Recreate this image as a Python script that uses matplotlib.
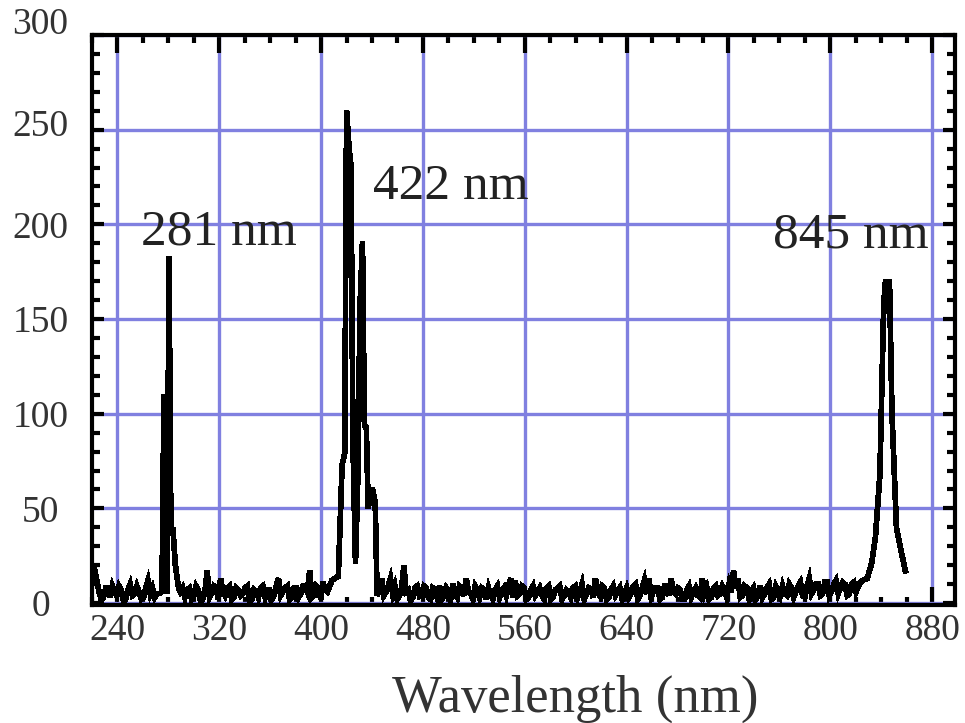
import numpy as np
import matplotlib
matplotlib.use("Agg")
import matplotlib.pyplot as plt
import matplotlib.transforms as mtransforms
from matplotlib.ticker import MultipleLocator

# ---------------- data ----------------
step = 1.75  # nm sampling of the baseline segments

base1_start = 222.0
base1_vals = [18, 12, 6, 2, 3, 8, 8, 3, 9, 6, 4, 9, 7, 1, 2,
              7, 10, 4, 5, 9, 6, 2, 3, 8, 12, 5, 8, 3, 5]

peak1_wl = [273, 275, 276.5, 278, 279, 280.5, 282, 283.5, 285.5, 288]
peak1_vals = [5, 6, 109, 109, 5, 183, 37, 40, 20, 8]

base2_start = 289.5
base2_vals = [6, 8, 3, 7, 8, 2, 4, 9, 7, 1, 2, 6, 17, 3, 5, 9, 8, 2, 13, 6,
              4, 8, 9, 2, 3, 8, 7, 4, 5, 8, 9, 1, 2, 7, 6, 3, 8, 9, 3, 7,
              7, 2, 4, 9, 13, 4, 6, 8, 9, 2, 3, 8, 8, 3, 5, 9, 9, 6, 17, 3,
              4, 9, 8, 2, 11, 7, 6, 9, 12]

peak2_wl = [410.5, 413.5, 416.5, 418.5, 420, 422, 423.5, 425, 427, 429,
            430.5, 432.5, 434, 435.5, 437, 439, 440.5, 442.5, 444, 446]
peak2_vals = [13, 14, 73, 79, 260, 240, 231, 85, 21, 70,
              156, 191, 94, 93, 50, 60, 60, 53, 4, 8]

base3_start = 447.5
base3_vals = [13, 4, 6, 9, 13, 5, 9, 2, 4, 8, 20, 6, 7, 1, 3, 8, 9, 4, 5, 9,
              8, 3, 2, 8, 7, 3, 9, 2, 4, 8, 6, 2, 10, 5, 3, 9, 8, 4, 13, 6,
              5, 2, 9, 7, 3, 8, 7, 2, 8, 4, 2, 7, 9, 3, 6, 8, 4, 9, 13, 3,
              12, 4, 5, 9, 8, 2, 3, 7, 9, 4, 6, 8, 4, 2, 8, 9, 2, 3, 7, 8,
              9, 2, 4, 7, 6, 3, 8, 9, 3, 6, 10, 2, 5, 8, 7, 3, 13, 6, 4, 9,
              8, 2, 3, 7, 9, 4, 6, 8, 2, 5, 8, 3, 5, 9, 10, 2, 4, 8, 12, 5,
              13, 3, 6, 8, 8, 2, 3, 9, 9, 4, 13, 6, 5, 8, 7, 2, 2, 7, 9, 3,
              6, 8, 4, 3, 13, 5, 8, 2, 3, 8, 9, 4, 5, 9, 7, 3, 10, 6, 17, 8,
              13, 3, 4, 9, 8, 2, 6, 8, 2, 4, 9, 3, 5, 8, 10, 2, 3, 9, 7, 4,
              9, 5, 4, 10, 8, 3, 6, 9, 11, 4, 3, 9, 13, 5, 7, 10, 10, 4, 5, 11,
              11, 4, 6, 10, 12, 5, 8, 11, 10, 4, 5, 10, 11, 6, 9, 11, 12]

peak3_wl = [829, 832.5, 835.5, 839, 842, 843.5, 845, 846.5, 848.5, 852, 855.5, 859]
peak3_vals = [13, 21, 35, 68, 158, 171, 153, 171, 100, 40, 28, 17]

peak_labels = ["281 nm", "422 nm", "845 nm"]
label_x = [258.5, 441.0, 755.0]
label_y = [189.5, 213.5, 188.0]

x_ticks = [240, 320, 400, 480, 560, 640, 720, 800, 880]
y_ticks = [0, 50, 100, 150, 200, 250, 300]
x_label = "Wavelength (nm)"

# ---------------- assemble ----------------
def seg(start, vals):
    return start + step * np.arange(len(vals))

wl = np.concatenate([seg(base1_start, base1_vals), peak1_wl,
                     seg(base2_start, base2_vals), peak2_wl,
                     seg(base3_start, base3_vals), peak3_wl])
inten = np.concatenate([base1_vals, peak1_vals, base2_vals, peak2_vals,
                        base3_vals, peak3_vals])

plt.rcParams["font.family"] = ["Liberation Serif", "DejaVu Serif"]

W, H = 965, 723
fig = plt.figure(figsize=(W / 100, H / 100), dpi=100)
ax = fig.add_axes([92 / W, 1 - 605 / H, (955 - 92) / W, (605 - 35) / H])

grid_color = "#8080e0"
ax.plot(wl, inten, color="black", lw=3.4, zorder=3, solid_joinstyle="miter",
        antialiased=False)

ax.set_xlim(220, 898)
ax.set_ylim(-1, 300)
ax.set_xticks(x_ticks)
ax.set_yticks(y_ticks)
ax.xaxis.set_minor_locator(MultipleLocator(20))
ax.yaxis.set_minor_locator(MultipleLocator(10))

ax.grid(True, which="major", color=grid_color, lw=2.4, zorder=1)
ax.set_axisbelow(True)

for s in ax.spines.values():
    s.set_linewidth(3.0)
    s.set_color("black")
    s.set_zorder(4)

ax.tick_params(axis="x", which="major", direction="in", length=13, width=3.0,
               top=True, bottom=True, labelsize=27, pad=6, color="black",
               labelcolor="#333333")
ax.tick_params(axis="x", which="minor", direction="in", length=5.5, width=3.0,
               top=True, bottom=True)
ax.tick_params(axis="y", which="major", direction="in", length=8.5, width=3.0,
               left=True, right=True, labelsize=27, pad=37, color="black",
               labelcolor="#333333")
ax.tick_params(axis="y", which="minor", direction="in", length=5.5, width=3.0,
               left=True, right=True)

fig.canvas.draw()
for val, lbl in zip(ax.get_yticks(), ax.get_yticklabels()):
    lbl.set_horizontalalignment("center")
    if val == 300:
        lbl.set_transform(lbl.get_transform() +
                          mtransforms.ScaledTranslation(0, 10 / 72, fig.dpi_scale_trans))
    elif val == 250:
        lbl.set_transform(lbl.get_transform() +
                          mtransforms.ScaledTranslation(0, 5 / 72, fig.dpi_scale_trans))

for t, x, y in zip(peak_labels, label_x, label_y):
    ax.text(x, y, t, fontsize=37, ha="left", va="baseline", color="#222222", zorder=5)

fig.text(575 / W, 1 - 712 / H, x_label, ha="center", va="baseline", fontsize=38,
         color="#333333")

fig.savefig("out.png", dpi=100)
